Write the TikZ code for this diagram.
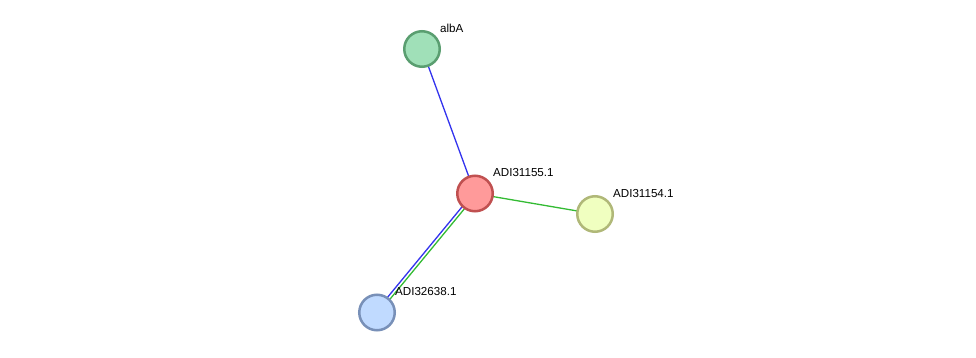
\documentclass[tikz,border=0pt]{standalone}
\usepackage{fontspec}
\setmainfont{Liberation Sans}
\begin{document}
\begin{tikzpicture}[x=1pt,y=-1pt,
  prot/.style={circle,minimum size=35.5pt,inner sep=0pt,line width=2.5pt},
  lbl/.style={font=\fontsize{11.6}{13}\selectfont,anchor=west,inner sep=0pt},
  edge/.style={line width=1.3pt}]
\useasboundingbox[fill=white] (0,0) rectangle (976,358);
\definecolor{bluee}{HTML}{3333EE}
\definecolor{greene}{HTML}{33BB33}
\coordinate (cA) at (422,49);
\coordinate (cR) at (475,193.5);
\coordinate (cY) at (595,214);
\coordinate (cB) at (377,312.5);
\draw[edge,bluee] (cA) -- (cR);
\draw[edge,greene] (cR) -- (cY);
\draw[edge,bluee,transform canvas={shift={(-1.2,-0.95)}}] (cR) -- (cB);
\draw[edge,greene,transform canvas={shift={(1.2,0.95)}}] (cR) -- (cB);
\node[prot,draw={rgb,255:red,90;green,158;blue,112},fill={rgb,255:red,160;green,224;blue,184}] (albA) at (cA) {};
\node[prot,draw={rgb,255:red,192;green,80;blue,80},fill={rgb,255:red,255;green,154;blue,154}] (red) at (cR) {};
\node[prot,draw={rgb,255:red,176;green,184;blue,120},fill={rgb,255:red,240;green,255;blue,192}] (yel) at (cY) {};
\node[prot,draw={rgb,255:red,120;green,144;blue,184},fill={rgb,255:red,192;green,218;blue,255}] (blu) at (cB) {};
\node[lbl] (lA) at (440,28.5) {albA};
\node[lbl] (lR) at (493,172.5) {ADI31155.1};
\node[lbl] (lY) at (613,193.5) {ADI31154.1};
\node[lbl] (lB) at (395,291.5) {ADI32638.1};
\end{tikzpicture}
\end{document}
